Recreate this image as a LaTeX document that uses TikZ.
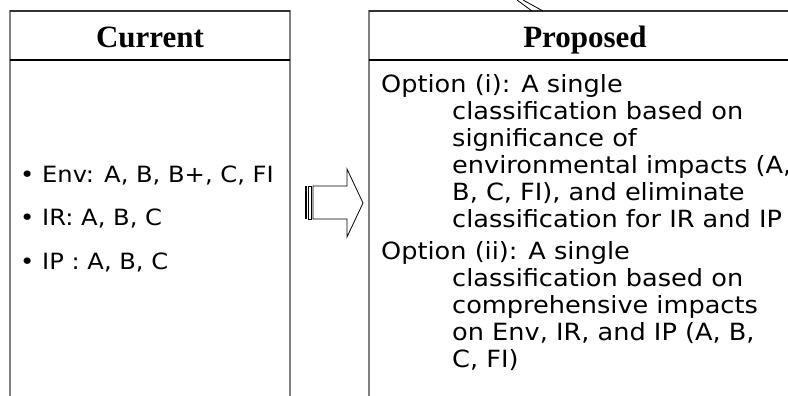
\documentclass[tikz,border=0pt]{standalone}
\usepackage{fontspec}
\setmainfont{Liberation Serif}
\newfontfamily\bodyfont[FakeStretch=1.08]{DejaVu Sans}
\usepackage{xcolor}
\usetikzlibrary{positioning}
\definecolor{framegray}{RGB}{128,128,128}

\begin{document}
\begin{tikzpicture}[x=1pt, y=-1pt,
  head/.style={font=\fontsize{31}{31}\selectfont\bfseries, inner sep=0pt, anchor=base},
  item/.style={font=\bodyfont\fontsize{22.4}{27}\selectfont, inner sep=0pt, anchor=base west},
  option/.style={font=\bodyfont\fontsize{23.7}{27}\selectfont, inner sep=0pt, anchor=north west, align=left},
  frame/.style={framegray, line width=1.6pt},
  rule/.style={black, line width=1.5pt}]
\useasboundingbox (0,0) rectangle (788,396);
\clip (0,0) rectangle (788,396);

% Current column
\draw[frame] (10,11) rectangle (290,420);
\draw[black!80, line width=1.5pt] (10,11) -- (290,11);
\draw[rule] (10,60) -- (290,60);
\node[head] (cur) at (150,48) {Current};

\node[item] (env) at (20,182) {\makebox[22pt][l]{•}Env: A, B, B+, C, FI};
\node[item] (ir) at (20,225) {\makebox[22pt][l]{•}IR: A, B, C};
\node[item] (ip) at (20,269) {\makebox[22pt][l]{•}IP : A, B, C};

% Proposed column
\draw[frame] (369,11) rectangle (810,420);
\draw[black!80, line width=1.5pt] (369,11) -- (810,11);
\draw[rule] (369,60) -- (810,60);
\node[head] (prop) at (585,48) {Proposed};

\node[option] (opti) at (381,74) {Option (i): A single\\
  \hspace*{71pt}classification based on\\
  \hspace*{71pt}significance of\\
  \hspace*{71pt}environmental impacts (A,\\
  \hspace*{71pt}B, C, FI), and eliminate\\
  \hspace*{71pt}classification for IR and IP};
\node[option] (optii) at (381,241) {Option (ii): A single\\
  \hspace*{71pt}classification based on\\
  \hspace*{71pt}comprehensive impacts\\
  \hspace*{71pt}on Env, IR, and IP (A, B,\\
  \hspace*{71pt}C, FI)};

% Striped block arrow
\fill[black] (305,186) rectangle (306.8,219);
\draw[black, line width=0.8pt] (308.5,186) rectangle (311.5,219);
\draw[black, line width=0.8pt, fill=white] (313,186) -- (347,186) -- (347,169) -- (363,203)
  -- (347,237) -- (347,219) -- (313,219) -- cycle;

% Tip of a shape above the proposed box
\draw[black, line width=0.8pt] (517,0) -- (532,11);
\draw[black, line width=0.8pt] (523,0) -- (543,11);

\end{tikzpicture}
\end{document}
